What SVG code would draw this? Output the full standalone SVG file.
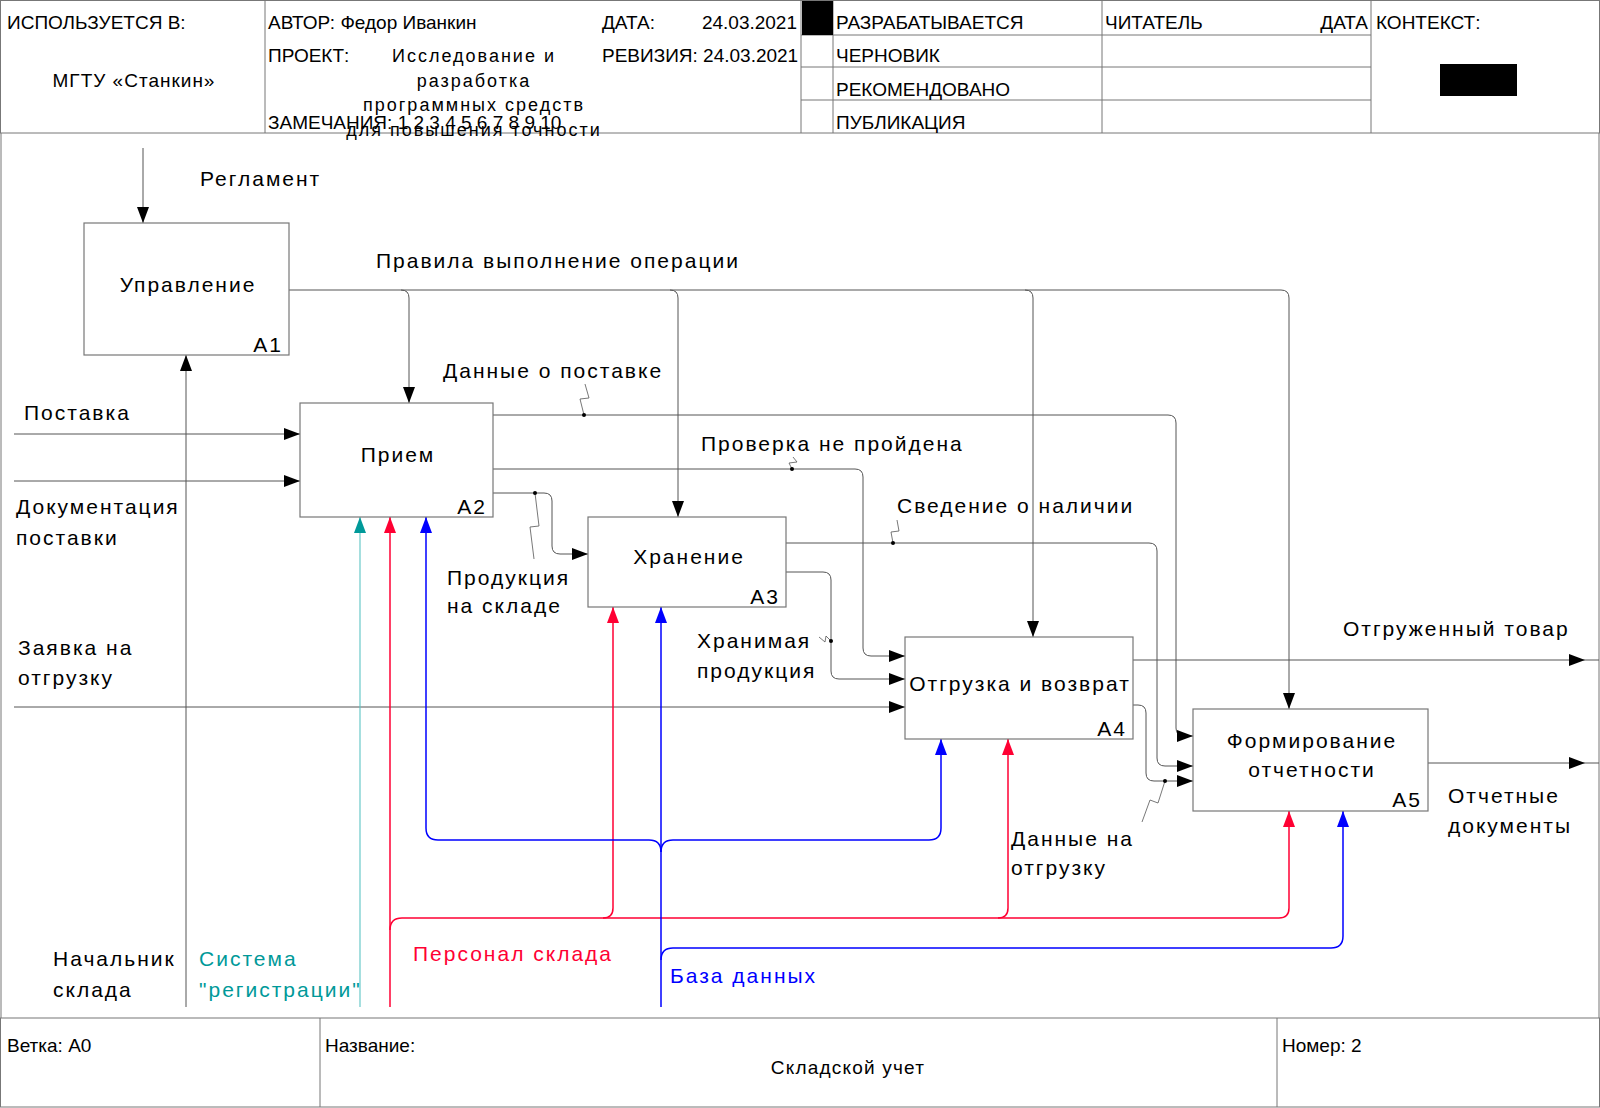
<svg xmlns="http://www.w3.org/2000/svg" width="1600" height="1108" viewBox="0 0 1600 1108">
<defs>
<style>
text{font-family:"Liberation Sans",Arial,sans-serif;fill:#000}
.h{font-size:19px}
.pj{font-size:18px;letter-spacing:2px}
.l{font-size:21px;letter-spacing:2px}
.frame{fill:none;stroke:#777;stroke-width:1}
.box{fill:#fff;stroke:#777;stroke-width:1.2}
.c{fill:none;stroke:#555;stroke-width:1}
.tick{fill:none;stroke:#555;stroke-width:0.8}
.teal{fill:none;stroke:#5cc4c4;stroke-width:1.1}
.red{fill:none;stroke:#ff0033;stroke-width:1.5}
.blue{fill:none;stroke:#0000ff;stroke-width:1.5}
.dot{fill:#000}
</style>
<marker id="ah" markerUnits="userSpaceOnUse" markerWidth="16" markerHeight="12" viewBox="0 0 16 12" refX="16" refY="6" orient="auto"><path d="M0,0 L16,6 L0,12 Z" fill="#000"/></marker>
<marker id="ahT" markerUnits="userSpaceOnUse" markerWidth="16" markerHeight="12" viewBox="0 0 16 12" refX="16" refY="6" orient="auto"><path d="M0,0 L16,6 L0,12 Z" fill="#009999"/></marker>
<marker id="ahR" markerUnits="userSpaceOnUse" markerWidth="16" markerHeight="12" viewBox="0 0 16 12" refX="16" refY="6" orient="auto"><path d="M0,0 L16,6 L0,12 Z" fill="#ff0033"/></marker>
<marker id="ahB" markerUnits="userSpaceOnUse" markerWidth="16" markerHeight="12" viewBox="0 0 16 12" refX="16" refY="6" orient="auto"><path d="M0,0 L16,6 L0,12 Z" fill="#0000ff"/></marker>
</defs>
<rect x="0" y="0" width="1600" height="1108" fill="#fff"/>

<g id="header">
<rect class="frame" x="0.5" y="0.5" width="1599" height="132.5"/>
<path class="frame" d="M265,0V133 M801,0V133 M833,0V133 M1102,0V133 M1371,0V133 M801,35H1371 M801,67H1371 M801,100H1371"/>
<rect x="802" y="1" width="31" height="34" fill="#000"/>
<rect x="1440" y="64" width="77" height="32" fill="#000"/>
<text class="h" x="7" y="29">ИСПОЛЬЗУЕТСЯ В:</text>
<text class="h" x="134" y="87" text-anchor="middle" style="letter-spacing:1px">МГТУ «Станкин»</text>
<text class="h" x="268" y="29">АВТОР: Федор Иванкин</text>
<text class="h" x="602" y="29">ДАТА:</text>
<text class="h" x="797" y="29" text-anchor="end">24.03.2021</text>
<text class="h" x="268" y="62">ПРОЕКТ:</text>
<text class="h" x="602" y="62">РЕВИЗИЯ: 24.03.2021</text>
<text class="pj" x="474" y="62" text-anchor="middle">Исследование и</text>
<text class="pj" x="474" y="87" text-anchor="middle">разработка</text>
<text class="pj" x="474" y="111" text-anchor="middle">программных средств</text>
<text class="h" x="268" y="129">ЗАМЕЧАНИЯ: 1 2 3 4 5 6 7 8 9 10</text>
<text class="pj" x="474" y="136" text-anchor="middle">для повышения точности</text>
<text class="h" x="836" y="29">РАЗРАБАТЫВАЕТСЯ</text>
<text class="h" x="836" y="62">ЧЕРНОВИК</text>
<text class="h" x="836" y="96">РЕКОМЕНДОВАНО</text>
<text class="h" x="836" y="129">ПУБЛИКАЦИЯ</text>
<text class="h" x="1105" y="29">ЧИТАТЕЛЬ</text>
<text class="h" x="1368" y="29" text-anchor="end">ДАТА</text>
<text class="h" x="1376" y="29">КОНТЕКСТ:</text>
</g>

<g id="border">
<path class="frame" d="M1,133V1018 M1599,133V1018"/>
</g>

<g id="footer">
<rect class="frame" x="0.5" y="1018" width="1599" height="89"/>
<path class="frame" d="M320,1018V1107 M1277,1018V1107"/>
<text class="h" x="7" y="1052">Ветка: А0</text>
<text class="h" x="325" y="1052">Название:</text>
<text class="h" x="848" y="1074" text-anchor="middle" style="letter-spacing:1.2px">Складской учет</text>
<text class="h" x="1282" y="1052">Номер: 2</text>
</g>

<g id="connectors">
<!-- black -->
<path class="c" d="M143,148V223" marker-end="url(#ah)"/>
<path class="c" d="M289,290H1281Q1289,290 1289,298V709" marker-end="url(#ah)"/>
<path class="c" d="M401,290Q409,290 409,298V403" marker-end="url(#ah)"/>
<path class="c" d="M670,290Q678,290 678,298V517" marker-end="url(#ah)"/>
<path class="c" d="M1025,290Q1033,290 1033,298V637" marker-end="url(#ah)"/>
<path class="c" d="M186,1007V355" marker-end="url(#ah)"/>
<path class="c" d="M14,434H300" marker-end="url(#ah)"/>
<path class="c" d="M14,481H300" marker-end="url(#ah)"/>
<path class="c" d="M14,707H905" marker-end="url(#ah)"/>
<path class="c" d="M493,415H1168Q1176,415 1176,423V728Q1176,736 1184,736H1193" marker-end="url(#ah)"/>
<path class="c" d="M493,469H855Q863,469 863,477V648Q863,656 871,656H905" marker-end="url(#ah)"/>
<path class="c" d="M493,493H544Q552,493 552,501V546Q552,554 560,554H588" marker-end="url(#ah)"/>
<path class="c" d="M786,543H1149Q1157,543 1157,551V758Q1157,766 1165,766H1193" marker-end="url(#ah)"/>
<path class="c" d="M786,572H823Q831,572 831,580V671Q831,679 839,679H905" marker-end="url(#ah)"/>
<path class="c" d="M1133,705H1138Q1146,705 1146,713V773Q1146,781 1154,781H1193" marker-end="url(#ah)"/>
<path class="c" d="M1133,660H1585" marker-end="url(#ah)"/>
<path class="c" d="M1585,660H1599"/>
<path class="c" d="M1428,763H1585" marker-end="url(#ah)"/>
<path class="c" d="M1585,763H1599"/>
<!-- ticks and dots -->
<path class="tick" d="M584,415L580,399L589,398L585,384"/>
<path class="tick" d="M792,469L789,463L797,462L793,457"/>
<path class="tick" d="M535,493L539,526L530,527L534,559"/>
<path class="tick" d="M893,543L891,532L899,531L897,520"/>
<path class="tick" d="M831,641L826,636L825,642L819,637"/>
<path class="tick" d="M1165,781L1158,803L1150,800L1142,822"/>
<circle class="dot" cx="584" cy="415" r="2"/>
<circle class="dot" cx="792" cy="469" r="2"/>
<circle class="dot" cx="535" cy="493" r="2"/>
<circle class="dot" cx="893" cy="543" r="2"/>
<circle class="dot" cx="831" cy="641" r="2"/>
<circle class="dot" cx="1165" cy="781" r="2"/>
<!-- teal -->
<path class="teal" d="M360,1007V517" marker-end="url(#ahT)"/>
<!-- red -->
<path class="red" d="M390,1007V517" marker-end="url(#ahR)"/>
<path class="red" d="M390,930Q390,918 402,918H603Q613,918 613,908V607" marker-end="url(#ahR)"/>
<path class="red" d="M603,918H998Q1008,918 1008,908V739" marker-end="url(#ahR)"/>
<path class="red" d="M998,918H1279Q1289,918 1289,908V811" marker-end="url(#ahR)"/>
<!-- blue -->
<path class="blue" d="M661,1007V607" marker-end="url(#ahB)"/>
<path class="blue" d="M661,852Q661,840 649,840H438Q426,840 426,828V517" marker-end="url(#ahB)"/>
<path class="blue" d="M661,852Q661,840 673,840H929Q941,840 941,828V739" marker-end="url(#ahB)"/>
<path class="blue" d="M661,960Q661,948 673,948H1331Q1343,948 1343,936V811" marker-end="url(#ahB)"/>
</g>

<g id="node-A1">
<rect class="box" x="84" y="223" width="205" height="132"/>
<text class="l" x="188" y="292" text-anchor="middle">Управление</text>
<text class="l" x="283" y="352" text-anchor="end">А1</text>
</g>
<g id="node-A2">
<rect class="box" x="300" y="403" width="193" height="114"/>
<text class="l" x="398" y="462" text-anchor="middle">Прием</text>
<text class="l" x="487" y="514" text-anchor="end">А2</text>
</g>
<g id="node-A3">
<rect class="box" x="588" y="517" width="198" height="90"/>
<text class="l" x="689" y="564" text-anchor="middle">Хранение</text>
<text class="l" x="780" y="604" text-anchor="end">А3</text>
</g>
<g id="node-A4">
<rect class="box" x="905" y="637" width="228" height="102"/>
<text class="l" x="1020" y="691" text-anchor="middle">Отгрузка и возврат</text>
<text class="l" x="1127" y="736" text-anchor="end">А4</text>
</g>
<g id="node-A5">
<rect class="box" x="1193" y="709" width="235" height="102"/>
<text class="l" x="1312" y="748" text-anchor="middle">Формирование</text>
<text class="l" x="1312" y="777" text-anchor="middle">отчетности</text>
<text class="l" x="1422" y="807" text-anchor="end">А5</text>
</g>

<g id="labels">
<text class="l" x="200" y="186">Регламент</text>
<text class="l" x="376" y="268">Правила выполнение операции</text>
<text class="l" x="443" y="378">Данные о поставке</text>
<text class="l" x="701" y="451">Проверка не пройдена</text>
<text class="l" x="897" y="513">Сведение о наличии</text>
<text class="l" x="447" y="585">Продукция</text>
<text class="l" x="447" y="613">на складе</text>
<text class="l" x="697" y="648">Хранимая</text>
<text class="l" x="697" y="678">продукция</text>
<text class="l" x="1343" y="636">Отгруженный товар</text>
<text class="l" x="1448" y="803">Отчетные</text>
<text class="l" x="1448" y="833">документы</text>
<text class="l" x="1011" y="846">Данные на</text>
<text class="l" x="1011" y="875">отгрузку</text>
<text class="l" x="24" y="420">Поставка</text>
<text class="l" x="16" y="514">Документация</text>
<text class="l" x="16" y="545">поставки</text>
<text class="l" x="18" y="655">Заявка на</text>
<text class="l" x="18" y="685">отгрузку</text>
<text class="l" x="53" y="966">Начальник</text>
<text class="l" x="53" y="997">склада</text>
<text class="l" x="199" y="966" style="fill:#009999">Система</text>
<text class="l" x="199" y="997" style="fill:#009999">"регистрации"</text>
<text class="l" x="413" y="961" style="fill:#ff0033">Персонал склада</text>
<text class="l" x="670" y="983" style="fill:#0000ff">База данных</text>
</g>
</svg>
